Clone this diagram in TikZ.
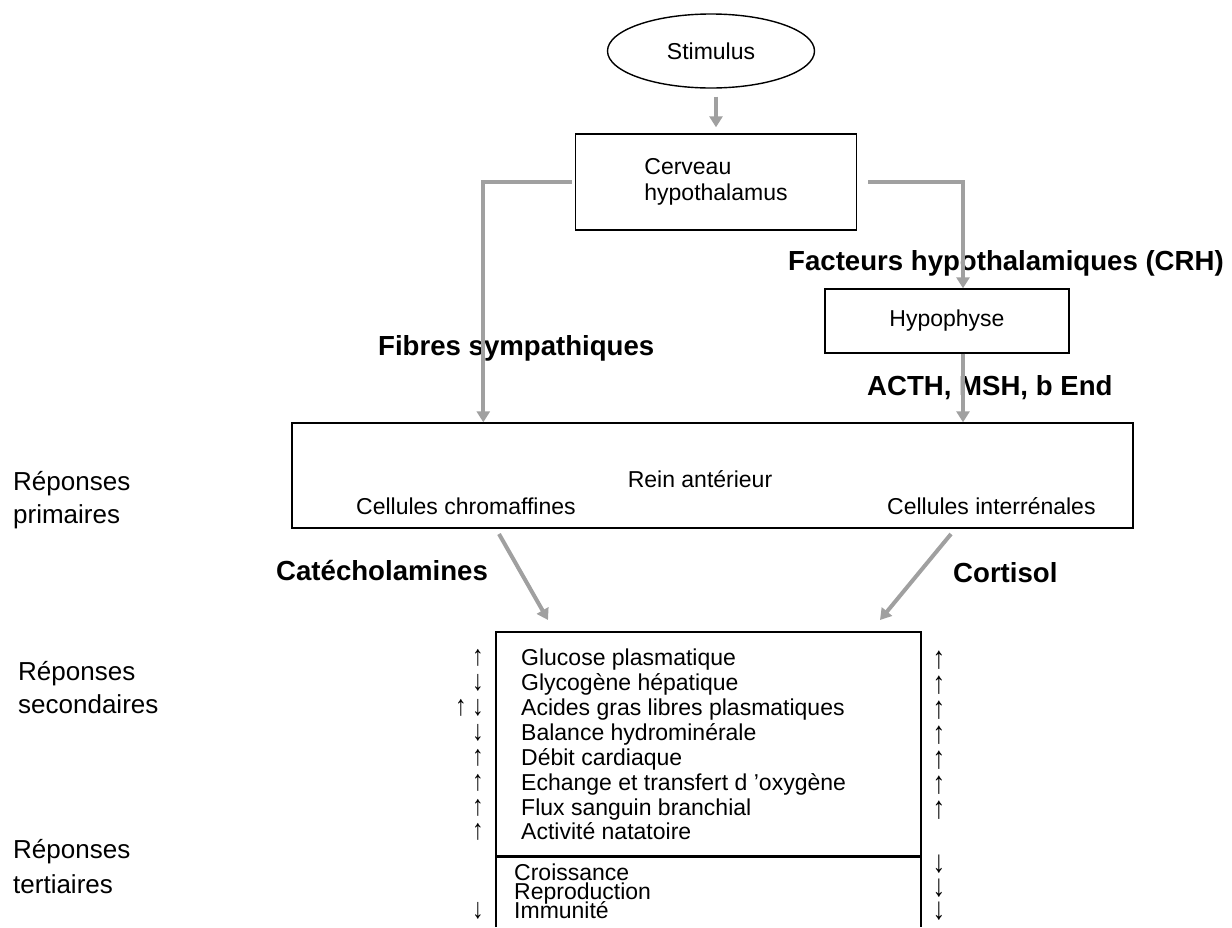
\documentclass[tikz,border=0pt]{standalone}
\usepackage{fontspec}
\setmainfont{Liberation Sans}
\usetikzlibrary{arrows.meta,shapes.geometric}
\definecolor{arrgray}{HTML}{A0A0A0}
\newcommand{\myup}{\scalebox{1.05}[1.3]{↑}}
\newcommand{\mydown}{\scalebox{1.05}[1.3]{↓}}
\tikzset{
  box/.style={draw, line width=1.4pt, inner sep=0pt},
  arr/.style={draw=arrgray, line width=4pt, -{Triangle[width=13pt,length=11pt]}},
  txt/.style={inner sep=0pt, anchor=base west, font=\fontsize{23}{25}\selectfont},
  side/.style={inner sep=0pt, anchor=base west, font=\fontsize{26}{30}\selectfont},
  lbl/.style={inner sep=0pt, anchor=base west, font=\bfseries\fontsize{27.6}{30}\selectfont},
  upd/.style={inner sep=0pt, anchor=base, font=\fontsize{22}{22}\selectfont},
  updr/.style={inner sep=0pt, anchor=base, font=\fontsize{24}{24}\selectfont},
}
\begin{document}
\begin{tikzpicture}[x=1pt,y=-1pt]
\useasboundingbox (0,0) rectangle (1232,927);
% nodes
\node[box, ellipse, minimum width=207pt, minimum height=74pt, font=\fontsize{23}{25}\selectfont] (stim) at (711,51) {Stimulus};
\node[box, minimum width=281pt, minimum height=96pt, align=left, font=\fontsize{23}{26}\selectfont] (cerveau) at (716,182) {Cerveau\\hypothalamus};
\node[box, minimum width=244pt, minimum height=64pt, font=\fontsize{23}{25}\selectfont] (hypo) at (947,321) {Hypophyse};
\node[box, minimum width=841pt, minimum height=105pt] (rein) at (712.5,475.5) {};
\node[txt, anchor=base] (reinant) at (700,487) {Rein antérieur};
\node[txt] (chrom) at (356,514) {Cellules chromaffines};
\node[txt] (inter) at (887,514) {Cellules interrénales};

% labels
\node[lbl] (lfac) at (788,270) {Facteurs hypothalamiques (CRH)};
\node[lbl] (lfib) at (378,355) {Fibres sympathiques};
\node[lbl] (lacth) at (867,395) {ACTH, MSH, b End};
\node[lbl] (lcat) at (276,580) {Catécholamines};
\node[lbl] (lcor) at (953,582) {Cortisol};

% side labels
\node[side] (rp1) at (13,490) {Réponses};
\node[side] (rp2) at (13,523) {primaires};
\node[side] (rs1) at (18,680) {Réponses};
\node[side] (rs2) at (18,713) {secondaires};
\node[side] (rt1) at (13,858) {Réponses};
\node[side] (rt2) at (13,893) {tertiaires};

% connectors
\draw[arr, shorten <=8pt, shorten >=6pt] (stim.south -| cerveau.north) -- (cerveau.north);
\draw[arr, shorten <=3pt] (cerveau.west) -| ([xshift=192pt]rein.north west);
\draw[arr, shorten <=11pt] (cerveau.east) -| ([xshift=16pt]hypo.north);
\draw[arr] ([xshift=16pt]hypo.south) -- ([xshift=16pt]hypo.south |- rein.north);

% effects box
\coordinate (eTL) at (496,632);
\coordinate (eTR) at (921,632);
\coordinate (eBL) at (496,927);
\coordinate (eBR) at (921,927);
\draw[line width=1.4pt] (eBL) -- (eTL) -- (eTR) -- (eBR);
\draw[line width=3pt] (496,856) -- (921,856);

\coordinate (catS) at (499,534);
\coordinate (catE) at (548,620);
\coordinate (corS) at (951,534);
\coordinate (corE) at (880,620);
\draw[arr] (catS) -- (catE);
\draw[arr] (corS) -- (corE);

% secondary items
\node[txt] (g1) at (521,665) {Glucose plasmatique};
\node[txt] (g2) at (521,690) {Glycogène hépatique};
\node[txt] (g3) at (521,715) {Acides gras libres plasmatiques};
\node[txt] (g4) at (521,740) {Balance hydrominérale};
\node[txt] (g5) at (521,765) {Débit cardiaque};
\node[txt] (g6) at (521,790) {Echange et transfert d ’oxygène};
\node[txt] (g7) at (521,815) {Flux sanguin branchial};
\node[txt] (g8) at (521,839) {Activité natatoire};
% tertiary items
\node[txt] (t1) at (514,880) {Croissance};
\node[txt] (t2) at (514,899) {Reproduction};
\node[txt] (t3) at (514,918) {Immunité};

% left arrows
\node[upd] (la1) at (478,665) {\myup};
\node[upd] (la2) at (478,690) {\mydown};
\node[upd] (la3a) at (461,715) {\myup};
\node[upd] (la3b) at (478,715) {\mydown};
\node[upd] (la4) at (478,740) {\mydown};
\node[upd] (la5) at (478,765) {\myup};
\node[upd] (la6) at (478,790) {\myup};
\node[upd] (la7) at (478,815) {\myup};
\node[upd] (la8) at (478,839) {\myup};
\node[upd] (la9) at (478,918) {\mydown};
% right arrows
\node[updr] (ra1) at (939,668) {\myup};
\node[updr] (ra2) at (939,693) {\myup};
\node[updr] (ra3) at (939,718) {\myup};
\node[updr] (ra4) at (939,743) {\myup};
\node[updr] (ra5) at (939,768) {\myup};
\node[updr] (ra6) at (939,793) {\myup};
\node[updr] (ra7) at (939,818) {\myup};
\node[updr] (ra8) at (939,872) {\mydown};
\node[updr] (ra9) at (939,896) {\mydown};
\node[updr] (ra10) at (939,919) {\mydown};
\end{tikzpicture}
\end{document}
